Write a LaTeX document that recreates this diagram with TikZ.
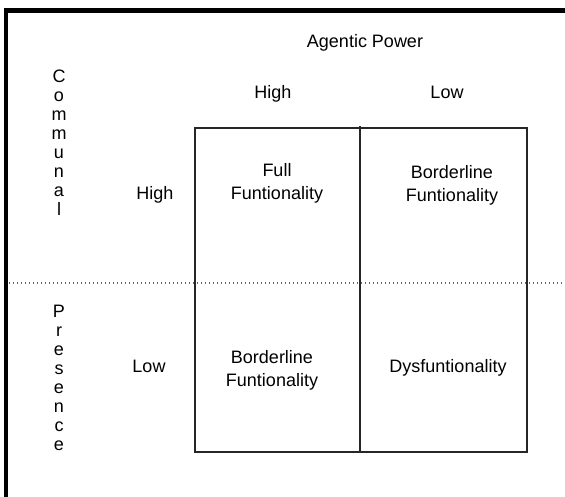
\documentclass[tikz,border=0pt]{standalone}
\usepackage{fontspec}
\setmainfont{Liberation Sans}
\begin{document}
\begin{tikzpicture}[x=1pt,y=-1pt,
  lbl/.style={inner sep=0pt, font=\fontsize{18}{23}\selectfont},
  cell/.style={lbl, align=center},
  vword/.style={inner sep=0pt, align=center, anchor=north, font=\fontsize{18}{19}\selectfont},
  frame/.style={line width=4.5pt, black},
  grid/.style={line width=1.3pt, black!85},
  split/.style={line width=1.4pt, black!60, dash pattern=on 1.4pt off 2.6pt}]
\useasboundingbox (0,0) rectangle (565,496);
\fill[white] (0,0) rectangle (565,496);

% outer frame, running off the right and bottom edges
\coordinate (fTL) at (6,10.5);
\coordinate (fTR) at (600,10.5);
\coordinate (fBL) at (6,530);
\draw[frame] (fTR) -- (fTL) -- (fBL);

% horizontal separator between the two rows
\coordinate (sL) at (9,283);
\coordinate (sR) at (565,283);
\draw[split] (sL) -- (sR);

% the 2x2 quadrant box
\coordinate (gTL) at (195,128);
\coordinate (gBR) at (527,452);
\coordinate (gMT) at (360,126);
\coordinate (gMB) at (360,452);
\draw[grid] (gTL) rectangle (gBR);
\draw[grid] (gMT) -- (gMB);

% axis titles
\node[lbl, anchor=base] (agentic) at (365,47) {Agentic Power};
\node[lbl, anchor=base] (colHigh) at (273,98) {High};
\node[lbl, anchor=base] (colLow) at (447,98) {Low};
\node[lbl, anchor=base] (rowHigh) at (155,199) {High};
\node[lbl, anchor=base] (rowLow) at (149,372) {Low};

\node[vword] (communal) at (59,70) {C\\o\\m\\m\\u\\n\\a\\l};
\node[vword] (presence) at (59,305) {P\\r\\e\\s\\e\\n\\c\\e};

% quadrant contents
\node[cell] (full) at (277,183.4) {Full\\Funtionality};
\node[cell] (bordTop) at (452,185.4) {Borderline\\Funtionality};
\node[cell] (bordBot) at (272,370.4) {Borderline\\Funtionality};
\node[lbl, anchor=base] (dys) at (448,372.5) {Dysfuntionality};
\end{tikzpicture}
\end{document}
